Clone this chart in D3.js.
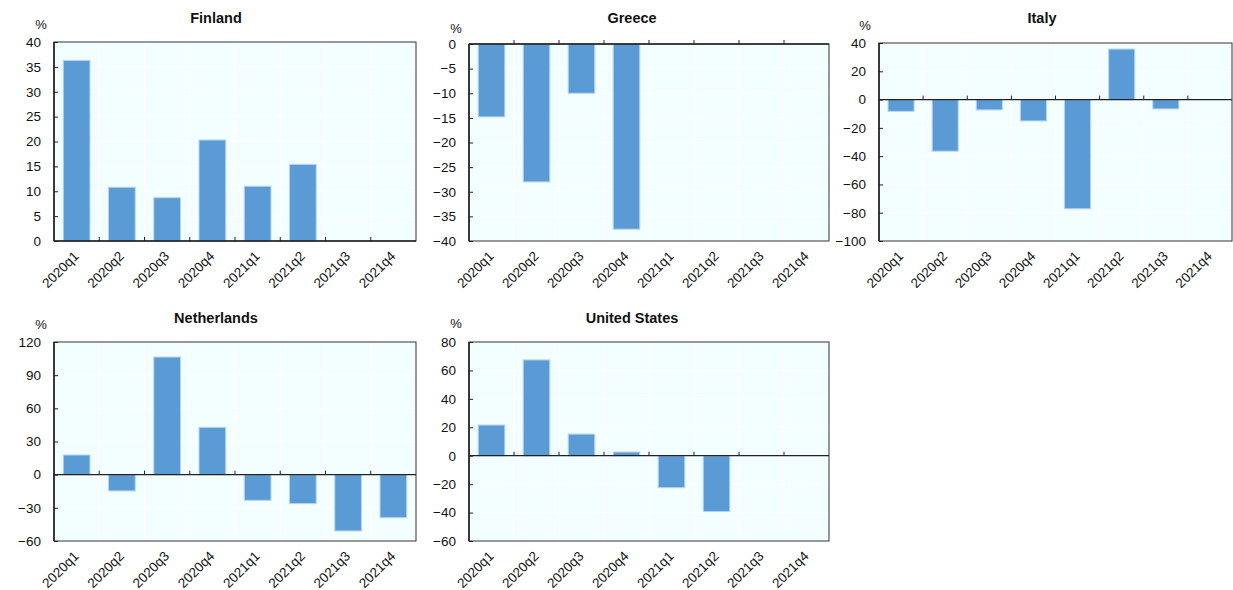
<!DOCTYPE html>
<html><head><meta charset="utf-8">
<script src="https://cdn.jsdelivr.net/npm/d3@7"></script>
<style>body{margin:0;background:#fff}svg{display:block;font-family:"Liberation Sans",Arial,sans-serif}</style>
</head><body>
<svg id="c" width="1233" height="590"></svg>
<script>
const quarters = ["2020q1","2020q2","2020q3","2020q4","2021q1","2021q2","2021q3","2021q4"];
const finland = [36.3, 10.8, 8.7, 20.3, 11.0, 15.4, null, null];
const greece = [-14.8, -28.0, -10.0, -37.6, null, null, null, null];
const italy = [-8.3, -36.5, -7.3, -15.1, -77.2, 35.7, -6.6, null];
const netherlands = [17.8, -14.7, 106.4, 42.8, -23.2, -26.2, -50.9, -38.9];
const unitedStates = [21.6, 67.4, 15.2, 2.6, -22.5, -39.3, null, null];
const finlandTicks = [0, 5, 10, 15, 20, 25, 30, 35, 40];
const greeceTicks = [-40, -35, -30, -25, -20, -15, -10, -5, 0];
const italyTicks = [-100, -80, -60, -40, -20, 0, 20, 40];
const netherlandsTicks = [-60, -30, 0, 30, 60, 90, 120];
const unitedStatesTicks = [-60, -40, -20, 0, 20, 40, 60, 80];
const unitLabel = "%";

const panels = [
  {title:"Finland", values:finland, ticks:finlandTicks, x0:54, x1:416, y0:42, y1:241, tx:216, ty:23, px:41, py:29},
  {title:"Greece", values:greece, ticks:greeceTicks, x0:469, x1:829, y0:44, y1:241, tx:632, ty:23, px:456, py:33},
  {title:"Italy", values:italy, ticks:italyTicks, x0:879, x1:1232, y0:43, y1:241, tx:1042, ty:23, px:865, py:30},
  {title:"Netherlands", values:netherlands, ticks:netherlandsTicks, x0:54, x1:416, y0:342, y1:541, tx:216, ty:323, px:41, py:329},
  {title:"United States", values:unitedStates, ticks:unitedStatesTicks, x0:469, x1:829, y0:342, y1:541, tx:632, ty:323, px:456, py:328}
];

const svg = d3.select("#c");
const pad = 0.41;

panels.forEach(p => {
  const g = svg.append("g");
  const x = d3.scaleBand().domain(quarters).range([p.x0, p.x1]).paddingInner(pad).paddingOuter(pad/2);
  const y = d3.scaleLinear().domain(d3.extent(p.ticks)).range([p.y1, p.y0]);
  const step = x.step();
  const bounds = quarters.map(q => x(q) - step*pad/2);

  g.append("rect").attr("x", p.x0).attr("y", p.y0).attr("width", p.x1-p.x0).attr("height", p.y1-p.y0)
    .attr("fill", "#f2feff");
  g.selectAll(".hg").data(p.ticks).join("line")
    .attr("x1", p.x0).attr("x2", p.x1).attr("y1", d => y(d)).attr("y2", d => y(d))
    .attr("stroke", "#ffffff").attr("stroke-width", 1);
  g.selectAll(".vg").data(bounds.slice(1)).join("line")
    .attr("x1", d => d).attr("x2", d => d).attr("y1", p.y0).attr("y2", p.y1)
    .attr("stroke", "#ffffff").attr("stroke-width", 1);

  g.selectAll(".bar").data(quarters.map((q,i)=>({q, v:p.values[i]})).filter(d => d.v !== null)).join("rect")
    .attr("x", d => x(d.q)).attr("width", x.bandwidth())
    .attr("y", d => y(Math.max(0, d.v))).attr("height", d => Math.abs(y(d.v) - y(0)))
    .attr("fill", "#5b9bd5").attr("stroke", "#b4d5f2").attr("stroke-width", 1);

  g.append("rect").attr("x", p.x0).attr("y", p.y0).attr("width", p.x1-p.x0).attr("height", p.y1-p.y0)
    .attr("fill", "none").attr("stroke", "#333").attr("stroke-width", 1);
  g.append("line").attr("x1", p.x0).attr("x2", p.x1).attr("y1", y(0)).attr("y2", y(0))
    .attr("stroke", "#222").attr("stroke-width", 1.3);
  g.selectAll(".xt").data(bounds.slice(1)).join("line")
    .attr("x1", d => d).attr("x2", d => d).attr("y1", y(0)).attr("y2", y(0) - 4)
    .attr("stroke", "#222").attr("stroke-width", 1);

  const ya = g.append("g").attr("transform", `translate(${p.x0},0)`)
    .call(d3.axisLeft(y).tickValues(p.ticks).tickSize(-4).tickPadding(13).tickFormat(d3.format("d")));
  ya.select(".domain").remove();
  ya.selectAll(".tick line").attr("stroke", "#222");
  ya.selectAll(".tick text").attr("font-size", 13.5).attr("fill", "#111").attr("font-family", '"Liberation Sans",Arial,sans-serif');
  g.append("line").attr("x1", p.x0).attr("x2", p.x0).attr("y1", p.y0).attr("y2", p.y1)
    .attr("stroke", "#222").attr("stroke-width", 1.6);

  g.selectAll(".xl").data(quarters).join("text")
    .attr("transform", d => `translate(${x(d) + x.bandwidth()/2 + 3},${p.y1 + 16}) rotate(-45)`)
    .attr("text-anchor", "end").attr("font-size", 13.5).attr("fill", "#111").text(d => d);

  g.append("text").attr("x", p.tx).attr("y", p.ty).attr("text-anchor", "middle")
    .attr("font-size", 14.5).attr("font-weight", "bold").attr("fill", "#111").text(p.title);
  g.append("text").attr("x", p.px).attr("y", p.py).attr("text-anchor", "middle")
    .attr("font-size", 13).attr("fill", "#111").text(unitLabel);
});
</script>
</body></html>
